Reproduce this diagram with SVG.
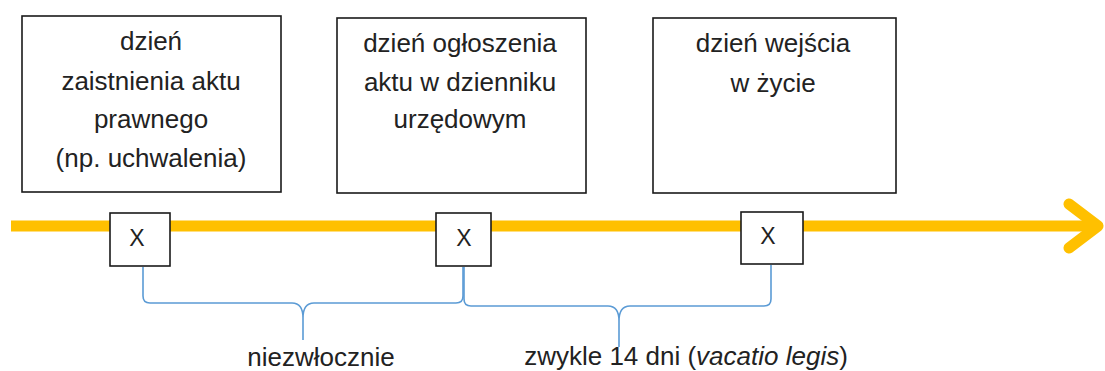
<svg xmlns="http://www.w3.org/2000/svg" width="1105" height="371" viewBox="0 0 1105 371">
<style>
.box{fill:#fff;stroke:#1a1a1a;stroke-width:1.6}
.t{font-family:"Liberation Sans",Arial,sans-serif;font-size:26px;fill:#222;text-anchor:middle}
.x{font-family:"Liberation Sans",Arial,sans-serif;font-size:23px;fill:#222;text-anchor:middle}
.axis{fill:none;stroke:#FFC000;stroke-width:11;stroke-linecap:round;stroke-linejoin:round}
.brace{fill:none;stroke:#5B9BD5;stroke-width:1.6}
</style>
<rect width="1105" height="371" fill="#fff"/>
<g id="connectors">
<line class="axis" x1="11" y1="226" x2="1096" y2="226" style="stroke-linecap:butt"/>
<path class="axis" d="M1069,204 L1098,226 L1069,248"/>
<path class="brace" d="M143,267 V296 Q143,303 150,303 H292 Q303,303 303,318 V340 M303,318 Q303,303 314,303 H456 Q463,303 463,296 V267"/>
<path class="brace" d="M464,267 V299 Q464,306 471,306 H608 Q619,306 619,321 V347 M619,321 Q619,306 630,306 H764 Q771,306 771,299 V265"/>
</g>
<g id="node-zaistnienie">
<rect class="box" x="22" y="16" width="259" height="176"/>
<text class="t" x="151" y="50">dzień</text>
<text class="t" x="151" y="90">zaistnienia aktu</text>
<text class="t" x="151" y="128">prawnego</text>
<text class="t" x="151" y="167">(np. uchwalenia)</text>
</g>
<g id="node-ogloszenie">
<rect class="box" x="337" y="18" width="249" height="175"/>
<text class="t" x="460" y="52">dzień ogłoszenia</text>
<text class="t" x="460" y="91">aktu w dzienniku</text>
<text class="t" x="460" y="128">urzędowym</text>
</g>
<g id="node-wejscie">
<rect class="box" x="653" y="18" width="243" height="175"/>
<text class="t" x="773" y="52">dzień wejścia</text>
<text class="t" x="773" y="92">w życie</text>
</g>
<g id="mark-1">
<rect class="box" x="110" y="213" width="60" height="53"/>
<text class="x" x="137" y="246">X</text>
</g>
<g id="mark-2">
<rect class="box" x="436" y="213" width="55" height="53"/>
<text class="x" x="464" y="246">X</text>
</g>
<g id="mark-3">
<rect class="box" x="741" y="212" width="62" height="52"/>
<text class="x" x="768" y="244">X</text>
</g>
<g id="label-niezwlocznie">
<text class="t" x="321" y="366">niezwłocznie</text>
</g>
<g id="label-vacatio">
<text class="t" x="686" y="365">zwykle 14 dni (<tspan font-style="italic">vacatio legis</tspan>)</text>
</g>
</svg>
